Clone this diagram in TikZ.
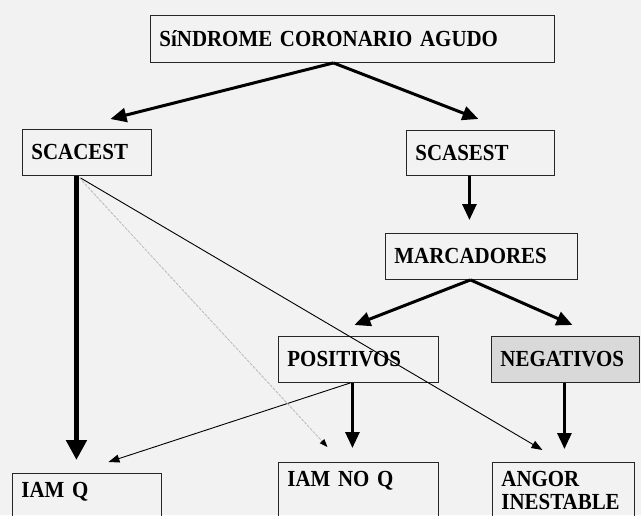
\documentclass[tikz,border=0pt]{standalone}
\usepackage{fontspec}
\setmainfont{Liberation Serif}[FakeStretch=0.91]
\usetikzlibrary{calc,positioning,arrows.meta}

\begin{document}
\begin{tikzpicture}[x=1pt,y=-1pt,
	box/.style={draw=black!85,line width=0.9pt,anchor=north west,inner xsep=9pt,inner ysep=0pt,
		align=left,font=\bfseries\fontsize{23}{23}\selectfont},
	openbox/.style={box,inner ysep=9pt,text depth=70pt},
	bigarr/.style={line width=3pt,-{Triangle[length=16pt,width=14pt]}},
	fatarr/.style={line width=5pt,-{Triangle[length=20pt,width=20pt]}},
	thinarr/.style={line width=0.9pt,-{Triangle[length=11pt,width=8pt]}},
	dotarr/.style={line width=0.8pt,draw=gray!55,dash pattern=on 3pt off 1.2pt,
		-{Triangle[length=8pt,width=6pt,black]}},]

	\fill[black!5] (0,0) rectangle (641,515);
	\clip (0,0) rectangle (641,515);

	\node [box,text width=386pt,minimum height=47pt] (sca) at (150,15) {SíNDROME CORONARIO AGUDO};
	\node [box,text width=111pt,minimum height=46pt] (scacest) at (22,129) {SCACEST};
	\node [box,text width=130pt,minimum height=45pt] (scasest) at (406,130) {SCASEST};
	\node [box,text width=174pt,minimum height=46pt] (marc) at (385,233) {MARCADORES};
	\node [box,text width=142pt,minimum height=46pt] (pos) at (278,336) {POSITIVOS};
	\node [box,text width=130pt,minimum height=46pt,fill=gray!30] (neg) at (491,336) {NEGATIVOS};
	\node [openbox,text width=131pt] (iamq) at (12,473) {IAM Q};
	\node [openbox,text width=142pt] (iamnoq) at (278,462) {IAM NO Q};
	\node [openbox,text width=124pt] (angor) at (492,462) {ANGOR\\INESTABLE};

	\draw[bigarr] ([xshift=-19pt]sca.south) -- ([xshift=23.5pt,yshift=10pt]scacest.north);
	\draw[bigarr] ([xshift=-19pt]sca.south) -- ([xshift=-2pt,yshift=11pt]scasest.north);
	\draw[bigarr] ([xshift=-11pt]scasest.south) -- ([xshift=-12pt,yshift=13pt]marc.north);
	\draw[bigarr] ([xshift=-11pt]marc.south) -- ([xshift=-4pt,yshift=11pt]pos.north);
	\draw[bigarr] ([xshift=-11pt]marc.south) -- ([xshift=7pt,yshift=11pt]neg.north);
	\draw[bigarr] ([xshift=-6pt]pos.south) -- ([xshift=-6pt,yshift=14pt]iamnoq.north);
	\draw[bigarr] ([xshift=-1pt]neg.south) -- ([xshift=1pt,yshift=13pt]angor.north);
	\draw[fatarr] ([xshift=-10.5pt]scacest.south) -- ([xshift=-10.5pt,yshift=13pt]iamq.north);
	\draw[thinarr] ([xshift=-8pt]pos.south) -- ([xshift=21.5pt,yshift=11pt]iamq.north);
	\draw[thinarr] ([xshift=-6.5pt,yshift=-2pt]scacest.south) -- ([xshift=-21pt,yshift=12pt]angor.north);
	\draw[dotarr] ([xshift=-7.5pt,yshift=-2pt]scacest.south) -- ([xshift=-31pt,yshift=15pt]iamnoq.north);
\end{tikzpicture}
\end{document}
